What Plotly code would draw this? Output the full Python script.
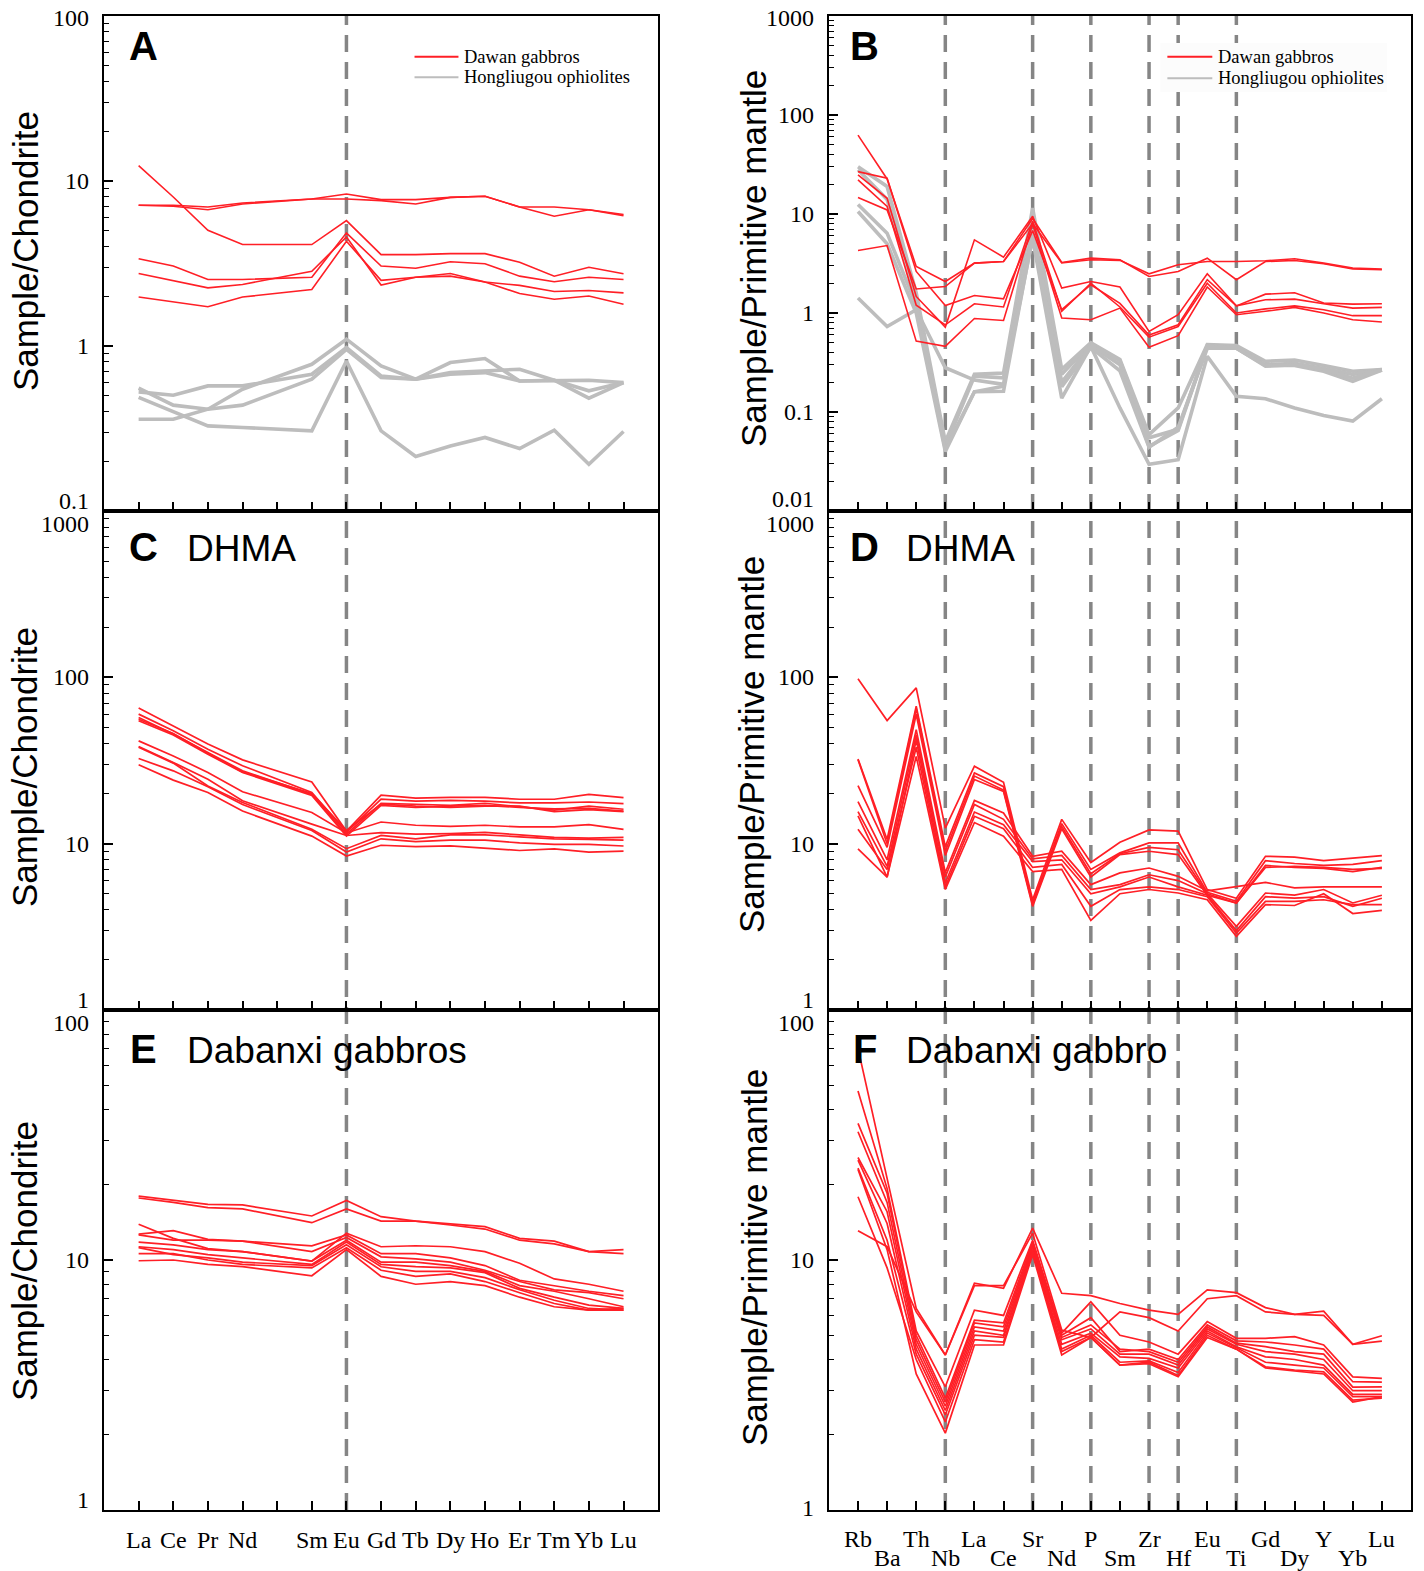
import math
import plotly.graph_objects as go

# ---------------------------------------------------------------- page geometry
FIG_W, FIG_H = 1424, 1571
M_L, M_R, M_T, M_B = 104, 11, 16, 61
PLOT_W = FIG_W - M_L - M_R
PLOT_H = FIG_H - M_T - M_B


def px_x(px):
    return (px - M_L) / PLOT_W


def px_y(py):
    return (FIG_H - M_B - py) / PLOT_H


COL_LEFT = [0.0, px_x(659)]
COL_RIGHT = [px_x(830), 1.0]
ROW_TOP = [px_y(511), 1.0]
ROW_MID = [px_y(1010), px_y(511)]
ROW_BOT = [0.0, px_y(1010)]

RED = "#ff1f26"
GREY = "#bdbdbd"
GUIDE_GREY = "#858585"
SERIF = "Liberation Serif, Times New Roman, serif"
SANS = "Liberation Sans, Arial, sans-serif"

# ---------------------------------------------------------------- element axes
REE_AXIS = ["La", "Ce", "Pr", "Nd", "Pm", "Sm", "Eu", "Gd", "Tb", "Dy", "Ho", "Er", "Tm", "Yb", "Lu"]
REE_UNLABELLED = ["Pm"]
REE_PLOTTED = ["La", "Ce", "Pr", "Nd", "Sm", "Eu", "Gd", "Tb", "Dy", "Ho", "Er", "Tm", "Yb", "Lu"]
REE_GUIDES = ["Eu"]

SPIDER_AXIS = ["Rb", "Ba", "Th", "Nb", "La", "Ce", "Sr", "Nd", "P", "Sm",
               "Zr", "Hf", "Eu", "Ti", "Gd", "Dy", "Y", "Yb", "Lu"]
SPIDER_GUIDES = ["Nb", "Sr", "P", "Zr", "Hf", "Ti"]

# ---------------------------------------------------------------- A: chondrite-normalised REE
A_DAWAN = [
    [12.4, 8.0, 5.03, 4.12, 4.12, 5.75, 3.58, 3.58, 3.63, 3.63, 3.22, 2.65, 3.0, 2.74],
    [7.13, 7.13, 6.96, 7.36, 7.78, 8.34, 7.71, 7.71, 7.96, 8.08, 6.96, 6.96, 6.7, 6.26],
    [7.13, 7.03, 6.7, 7.26, 7.78, 7.78, 7.6, 7.26, 7.96, 8.08, 6.96, 6.11, 6.7, 6.17],
    [3.38, 3.05, 2.53, 2.53, 2.61, 4.85, 3.05, 2.96, 3.24, 3.15, 2.65, 2.45, 2.61, 2.53],
    [2.75, 2.5, 2.25, 2.36, 2.84, 4.58, 2.34, 2.61, 2.65, 2.44, 2.33, 2.14, 2.17, 2.1],
    [1.98, 1.86, 1.73, 1.98, 2.2, 4.31, 2.5, 2.61, 2.75, 2.44, 2.08, 1.92, 2.01, 1.79],
]
A_HONGLIUGOU = [
    [0.527, 0.503, 0.573, 0.573, 0.674, 0.978, 0.658, 0.629, 0.794, 0.839, 0.614, 0.62, 0.62, 0.6],
    [0.555, 0.438, 0.414, 0.438, 0.629, 0.955, 0.644, 0.629, 0.674, 0.69, 0.614, 0.62, 0.483, 0.6],
    [0.36, 0.36, 0.414, 0.547, 0.775, 1.10, 0.757, 0.629, 0.69, 0.706, 0.723, 0.62, 0.535, 0.6],
    [0.488, 0.399, 0.328, 0.321, 0.306, 0.811, 0.306, 0.214, 0.248, 0.279, 0.239, 0.309, 0.192, 0.303],
]

# ---------------------------------------------------------------- B: primitive-mantle spider
B_DAWAN = [
    [62.7, 22.6, 2.95, 2.08, 3.19, 3.31, 9.0, 3.24, 3.58, 3.45, 2.34, 2.63, 3.58, 2.17, 3.31, 3.39, 3.14, 2.78, 2.73],
    [14.7, 11.0, 1.75, 1.85, 3.19, 3.31, 8.0, 3.2, 3.45, 3.4, 2.49, 3.07, 3.31, 3.31, 3.37, 3.53, 3.19, 2.84, 2.78],
    [24.8, 14.4, 1.47, 0.72, 5.48, 3.67, 9.5, 1.79, 2.08, 1.83, 0.65, 0.96, 2.49, 1.18, 1.55, 1.6, 1.26, 1.23, 1.24],
    [26.8, 23.0, 2.63, 1.19, 1.5, 1.39, 6.8, 1.08, 1.93, 1.25, 0.60, 0.76, 2.17, 1.18, 1.36, 1.38, 1.24, 1.12, 1.14],
    [22.1, 11.9, 1.2, 0.76, 1.24, 1.15, 8.5, 1.04, 2.0, 1.15, 0.57, 0.73, 2.0, 1.0, 1.10, 1.18, 1.08, 0.94, 0.94],
    [4.28, 4.8, 0.52, 0.46, 0.88, 0.84, 7.9, 0.89, 0.855, 1.12, 0.45, 0.59, 1.83, 0.96, 1.04, 1.14, 1.0, 0.855, 0.81],
]
B_HONGLIUGOU = [
    [1.42, 0.73, 1.08, 0.28, 0.21, 0.19, 5.7, 0.138, 0.46, 0.11, 0.0296, 0.033, 0.366, 0.144, 0.136, 0.11, 0.092, 0.081, 0.136],
    [30.0, 19.0, 1.6, 0.05, 0.24, 0.248, 11.5, 0.27, 0.5, 0.34, 0.059, 0.11, 0.479, 0.47, 0.325, 0.335, 0.295, 0.258, 0.268],
    [28.0, 14.0, 1.4, 0.045, 0.23, 0.221, 7.0, 0.24, 0.49, 0.33, 0.055, 0.067, 0.47, 0.444, 0.30, 0.31, 0.275, 0.24, 0.268],
    [12.5, 6.4, 1.2, 0.042, 0.16, 0.182, 6.5, 0.2, 0.47, 0.30, 0.045, 0.065, 0.46, 0.44, 0.295, 0.295, 0.258, 0.204, 0.265],
    [10.6, 5.0, 1.0, 0.04, 0.16, 0.162, 6.0, 0.18, 0.45, 0.26, 0.044, 0.07, 0.44, 0.44, 0.29, 0.30, 0.27, 0.22, 0.265],
]

# ---------------------------------------------------------------- C / D: DHMA
C_DHMA = [
    [65.3, 51.0, 39.7, 31.9, 23.5, 11.9, 19.6, 18.8, 19.0, 19.0, 18.5, 18.5, 19.8, 18.9],
    [60.1, 47.7, 37.0, 29.4, 20.3, 11.7, 18.5, 18.0, 18.2, 18.0, 17.6, 17.6, 17.8, 17.4],
    [57.4, 45.6, 35.3, 27.4, 19.8, 11.4, 17.5, 17.2, 17.0, 17.5, 16.6, 15.9, 16.8, 16.1],
    [54.8, 45.0, 34.5, 26.8, 19.5, 11.1, 17.0, 16.5, 16.8, 17.0, 16.5, 16.2, 16.3, 15.7],
    [56.0, 46.0, 35.0, 27.0, 20.0, 12.0, 17.3, 16.8, 16.5, 16.8, 16.8, 15.6, 16.0, 15.6],
    [41.5, 33.7, 26.8, 20.5, 15.4, 11.6, 13.5, 12.9, 12.7, 12.9, 12.6, 12.6, 13.0, 12.2],
    [38.4, 30.8, 24.4, 18.1, 13.1, 11.2, 11.65, 11.4, 11.5, 11.7, 11.3, 10.9, 10.8, 10.9],
    [38.0, 30.5, 22.2, 17.7, 12.2, 9.33, 11.2, 10.7, 11.3, 11.3, 11.0, 10.7, 10.6, 10.5],
    [32.5, 27.4, 22.0, 17.2, 12.0, 8.9, 10.7, 10.3, 10.5, 10.5, 10.1, 9.9, 9.9, 9.68],
    [29.8, 24.1, 20.3, 15.7, 11.1, 8.43, 9.78, 9.6, 9.7, 9.4, 9.1, 9.3, 8.9, 9.03],
]
D_DHMA = [
    [98.0, 55.0, 86.5, 12.4, 29.2, 23.4, 4.6, 14.0, 7.7, 10.2, 12.1, 11.9, 5.3, 4.7, 8.4, 8.3, 7.9, 8.2, 8.47],
    [32.3, 10.6, 67.0, 9.6, 26.6, 22.0, 4.4, 13.2, 7.0, 8.8, 10.1, 10.1, 5.1, 4.5, 7.9, 7.6, 7.4, 7.5, 7.9],
    [32.0, 10.0, 65.0, 9.0, 25.5, 21.0, 4.3, 12.7, 6.6, 8.7, 9.5, 9.2, 5.0, 4.4, 7.4, 7.2, 7.1, 6.8, 7.2],
    [22.3, 9.5, 60.0, 8.5, 24.3, 20.6, 4.2, 12.3, 6.3, 8.6, 9.0, 8.6, 4.9, 4.4, 7.2, 7.3, 7.2, 7.0, 7.1],
    [17.9, 8.0, 48.4, 6.7, 18.2, 15.3, 8.4, 9.0, 5.67, 6.67, 7.14, 6.36, 5.2, 5.5, 5.85, 5.42, 5.5, 5.5, 5.5],
    [15.6, 7.3, 45.0, 6.3, 17.2, 14.0, 8.1, 8.5, 5.3, 5.67, 6.5, 6.0, 5.0, 3.18, 5.05, 4.9, 5.3, 4.4, 4.9],
    [14.7, 6.3, 42.0, 5.8, 15.5, 13.0, 7.8, 8.0, 5.0, 5.5, 6.3, 5.5, 4.9, 3.0, 4.8, 4.7, 4.8, 4.2, 4.7],
    [12.2, 7.0, 38.0, 5.5, 14.6, 12.3, 7.2, 7.5, 4.2, 5.3, 5.5, 5.3, 4.8, 2.9, 4.5, 4.5, 4.6, 4.3, 4.3],
    [9.3, 6.3, 33.5, 5.3, 13.4, 11.1, 6.8, 7.0, 3.46, 5.0, 5.3, 5.05, 4.6, 2.77, 4.3, 4.25, 5.0, 3.8, 3.97],
]

# ---------------------------------------------------------------- E / F: Dabanxi gabbros
E_DABANXI = [
    [18.0, 17.3, 16.7, 16.6, 15.0, 17.3, 14.9, 14.3, 13.9, 13.6, 12.2, 11.9, 10.8, 10.6],
    [17.7, 17.0, 16.2, 16.0, 14.1, 16.0, 14.3, 14.3, 13.8, 13.3, 12.0, 11.6, 10.8, 11.0],
    [13.9, 12.2, 11.1, 10.8, 9.9, 12.8, 11.3, 11.4, 11.3, 10.8, 9.7, 8.4, 8.0, 7.5],
    [12.7, 13.1, 12.1, 11.9, 11.4, 12.6, 10.6, 10.6, 10.2, 9.5, 8.3, 7.9, 7.5, 7.2],
    [12.6, 12.0, 12.0, 11.9, 10.8, 12.3, 10.3, 10.1, 9.8, 9.1, 8.2, 7.6, 7.4, 7.0],
    [11.8, 11.5, 11.0, 10.8, 9.9, 12.0, 9.8, 9.8, 9.5, 9.0, 7.9, 7.5, 7.0, 6.5],
    [11.3, 11.0, 10.5, 10.2, 9.6, 11.8, 9.6, 9.4, 9.3, 8.9, 7.7, 7.1, 6.6, 6.4],
    [11.2, 10.5, 10.2, 9.8, 9.5, 11.5, 9.4, 9.0, 9.0, 8.5, 7.6, 6.9, 6.4, 6.3],
    [10.6, 10.6, 10.0, 9.6, 9.3, 11.2, 9.1, 8.6, 8.8, 8.2, 7.4, 6.7, 6.3, 6.4],
    [9.93, 10.0, 9.6, 9.4, 8.65, 11.0, 8.6, 8.0, 8.2, 7.9, 7.1, 6.5, 6.3, 6.3],
]
F_DABANXI = [
    [70.2, 20.9, 6.4, 4.17, 8.07, 7.7, 13.4, 7.36, 7.2, 6.7, 6.3, 6.06, 7.6, 7.4, 6.45, 6.06, 6.24, 4.6, 4.74],
    [13.1, 11.3, 6.2, 4.17, 7.9, 7.9, 12.8, 5.25, 4.9, 6.2, 5.88, 5.2, 7.0, 7.2, 6.2, 6.06, 6.0, 4.6, 4.98],
    [47.4, 19.3, 5.2, 3.11, 6.3, 6.0, 12.0, 5.1, 6.8, 5.0, 4.7, 4.2, 5.67, 4.86, 4.86, 4.94, 4.57, 3.41, 3.36],
    [35.2, 18.5, 5.0, 2.8, 5.75, 5.6, 11.8, 5.0, 5.88, 4.3, 4.4, 4.0, 5.5, 4.75, 4.7, 4.57, 4.4, 3.26, 3.25],
    [32.6, 17.0, 4.8, 2.7, 5.6, 5.4, 11.5, 4.9, 5.5, 4.4, 4.3, 3.9, 5.4, 4.65, 4.5, 4.3, 4.2, 3.1, 3.11],
    [25.7, 15.6, 4.6, 2.6, 5.4, 5.2, 11.3, 4.8, 5.3, 4.2, 4.2, 3.8, 5.3, 4.6, 4.3, 4.2, 4.0, 3.0, 3.0],
    [25.1, 14.0, 4.4, 2.5, 5.2, 5.0, 11.0, 4.6, 5.1, 4.1, 4.04, 3.7, 5.2, 4.5, 4.1, 4.0, 3.8, 2.9, 2.9],
    [23.3, 12.0, 4.2, 2.4, 5.0, 4.9, 11.0, 4.4, 5.0, 3.9, 3.95, 3.55, 5.1, 4.45, 3.9, 3.8, 3.7, 2.84, 2.84],
    [17.9, 9.3, 4.0, 2.25, 4.8, 4.7, 10.8, 4.3, 4.9, 3.8, 3.9, 3.45, 5.0, 4.4, 3.74, 3.63, 3.57, 2.75, 2.8],
    [23.0, 11.0, 3.5, 2.03, 4.57, 4.57, 10.5, 4.17, 4.9, 3.8, 3.85, 3.41, 4.9, 4.4, 3.7, 3.6, 3.5, 2.7, 2.84],
]

# ---------------------------------------------------------------- text
CHONDRITE_TITLE = "Sample/Chondrite"
MANTLE_TITLE = "Sample/Primitive mantle"
LEGEND_NAMES = ["Dawan gabbros", "Hongliugou ophiolites"]

REE_X = [REE_AXIS.index(el) + 1 for el in REE_PLOTTED]
SPIDER_X = [i + 1 for i in range(len(SPIDER_AXIS))]

# per-panel description: axis ids, domains, log range, series, titles, label offsets
PANELS = [
    dict(ax="", col=COL_LEFT, row=ROW_TOP, yr=(0.1, 100), kind="ree",
         series=[(A_HONGLIUGOU, GREY, 3.6), (A_DAWAN, RED, 1.6)],
         letter="A", name="", label_y=46, title=CHONDRITE_TITLE, title_xy=(26, 251),
         label_shift={0.1: 10, 100: -2}),
    dict(ax="2", col=COL_RIGHT, row=ROW_TOP, yr=(0.01, 1000), kind="spider",
         series=[(B_HONGLIUGOU, GREY, 3.6), (B_DAWAN, RED, 1.6)],
         letter="B", name="", label_y=46, title=MANTLE_TITLE, title_xy=(754, 259),
         label_shift={0.01: 12, 1000: -2}),
    dict(ax="3", col=COL_LEFT, row=ROW_MID, yr=(1, 1000), kind="ree",
         series=[(C_DHMA, RED, 1.7)],
         letter="C", name="DHMA", label_y=547, title=CHONDRITE_TITLE, title_xy=(24, 767),
         label_shift={1: 10, 1000: -13}),
    dict(ax="4", col=COL_RIGHT, row=ROW_MID, yr=(1, 1000), kind="spider",
         series=[(D_DHMA, RED, 1.7)],
         letter="D", name="DHMA", label_y=547, title=MANTLE_TITLE, title_xy=(753, 745),
         label_shift={1: 10, 1000: -13}),
    dict(ax="5", col=COL_LEFT, row=ROW_BOT, yr=(1, 100), kind="ree",
         series=[(E_DABANXI, RED, 1.7)],
         letter="E", name="Dabanxi gabbros", label_y=1049, title=CHONDRITE_TITLE, title_xy=(24, 1261),
         label_shift={1: 10, 100: -13}),
    dict(ax="6", col=COL_RIGHT, row=ROW_BOT, yr=(1, 100), kind="spider",
         series=[(F_DABANXI, RED, 1.7)],
         letter="F", name="Dabanxi gabbro", label_y=1049, title=MANTLE_TITLE, title_xy=(755, 1258),
         label_shift={1: 2, 100: -13}),
]


def fmt_decade(v):
    return "%g" % v


fig = go.Figure()
layout = dict(
    width=FIG_W, height=FIG_H,
    margin=dict(l=M_L, r=M_R, t=M_T, b=M_B, pad=0),
    paper_bgcolor="white", plot_bgcolor="rgba(0,0,0,0)",
    showlegend=False,
)
annotations = []
shapes = []

for p in PANELS:
    xid, yid = "x" + p["ax"], "y" + p["ax"]
    xs = REE_X if p["kind"] == "ree" else SPIDER_X
    n_ticks = len(REE_AXIS) if p["kind"] == "ree" else len(SPIDER_AXIS)
    lo, hi = p["yr"]

    for group, color, width in p["series"]:
        for vals in group:
            fig.add_trace(go.Scatter(
                x=xs, y=vals, mode="lines", xaxis=xid, yaxis=yid,
                line=dict(color=color, width=width), hoverinfo="skip",
                showlegend=False,
            ))

    layout["xaxis" + p["ax"]] = dict(
        domain=p["col"], anchor=yid, range=[0, n_ticks + 1],
        tickmode="array", tickvals=list(range(1, n_ticks + 1)),
        ticks="inside", ticklen=9, tickwidth=1.5, tickcolor="black",
        showticklabels=False, showline=True, linecolor="black", linewidth=2,
        mirror=True, showgrid=False, zeroline=False,
    )
    layout["yaxis" + p["ax"]] = dict(
        domain=p["row"], anchor=xid, type="log",
        range=[math.log10(lo), math.log10(hi)], dtick=1, tick0=0,
        ticks="inside", ticklen=9, tickwidth=1.5, tickcolor="black",
        minor=dict(ticks="inside", ticklen=5, tickwidth=1.2, tickcolor="black",
                   dtick="D1", showgrid=False),
        showticklabels=False, showline=True, linecolor="black", linewidth=2,
        mirror=True, showgrid=False, zeroline=False,
    )

    # decade labels on the y axis
    shifts = {round(math.log10(k)): s for k, s in p["label_shift"].items()}
    for e in range(round(math.log10(lo)), round(math.log10(hi)) + 1):
        annotations.append(dict(
            text=fmt_decade(10.0 ** e), xref="paper", yref=yid, x=p["col"][0], y=e,
            xanchor="right", yanchor="middle", xshift=-13, yshift=shifts.get(e, 0),
            showarrow=False, font=dict(family=SERIF, size=24, color="black"),
        ))

    # panel letter and name
    letter_px = 144 if p["col"] is COL_LEFT else 866
    name_px = 185 if p["col"] is COL_LEFT else 905
    cy = p["label_y"]
    annotations.append(dict(
        text="<b>%s</b>" % p["letter"], xref="paper", yref="paper",
        x=px_x(letter_px), y=px_y(cy), xanchor="center", yanchor="middle",
        showarrow=False, font=dict(family=SANS, size=40, color="black"),
    ))
    if p["name"]:
        annotations.append(dict(
            text=p["name"], xref="paper", yref="paper",
            x=px_x(name_px), y=px_y(cy + 1), xanchor="left", yanchor="middle",
            showarrow=False, font=dict(family=SANS, size=37, color="black"),
        ))

    # y-axis title
    tx, ty = p["title_xy"]
    annotations.append(dict(
        text=p["title"], xref="paper", yref="paper", x=px_x(tx), y=px_y(ty),
        xanchor="center", yanchor="middle", textangle=-90, showarrow=False,
        font=dict(family=SANS, size=35, color="black"),
    ))

# element labels under the bottom panels
for i, el in enumerate(REE_AXIS):
    if el in REE_UNLABELLED:
        continue
    annotations.append(dict(
        text=el, xref="x5", yref="paper", x=i + 1, y=0, xanchor="center",
        yanchor="middle", yshift=-30, showarrow=False,
        font=dict(family=SERIF, size=24, color="black"),
    ))
for i, el in enumerate(SPIDER_AXIS):
    annotations.append(dict(
        text=el, xref="x6", yref="paper", x=i + 1, y=0, xanchor="center",
        yanchor="middle", yshift=-29 if i % 2 == 0 else -48, showarrow=False,
        font=dict(family=SERIF, size=24, color="black"),
    ))

# dashed guide lines through each column
for el in REE_GUIDES:
    xv = REE_AXIS.index(el) + 1
    shapes.append(dict(type="line", xref="x5", yref="paper", x0=xv, x1=xv, y0=0, y1=1,
                       line=dict(color=GUIDE_GREY, width=3.5, dash="17px,10px"), layer="below"))
for el in SPIDER_GUIDES:
    xv = SPIDER_AXIS.index(el) + 1
    shapes.append(dict(type="line", xref="x6", yref="paper", x0=xv, x1=xv, y0=0, y1=1,
                       line=dict(color=GUIDE_GREY, width=3.5, dash="17px,10px"), layer="below"))

# legends of panels A and B
shapes.append(dict(type="rect", xref="paper", yref="paper",
                   x0=px_x(1162), x1=px_x(1389), y0=px_y(92), y1=px_y(43),
                   fillcolor="#fcfcfc", line=dict(width=0), layer="above"))
for (lx0, lx1, tx0, ys) in [(415, 459, 463, (56.7, 77.3)), (1169, 1214, 1218, (56.7, 78.3))]:
    for name, color, yy in zip(LEGEND_NAMES, [RED, GREY], ys):
        shapes.append(dict(type="line", xref="paper", yref="paper",
                           x0=px_x(lx0), x1=px_x(lx1), y0=px_y(yy), y1=px_y(yy),
                           line=dict(color=color, width=2), layer="above"))
        annotations.append(dict(
            text=name, xref="paper", yref="paper", x=px_x(tx0), y=px_y(yy),
            xanchor="left", yanchor="middle", showarrow=False,
            font=dict(family=SERIF, size=18.5, color="black"),
        ))

layout["annotations"] = annotations
layout["shapes"] = shapes
fig.update_layout(**layout)

fig.write_html("out.html")
